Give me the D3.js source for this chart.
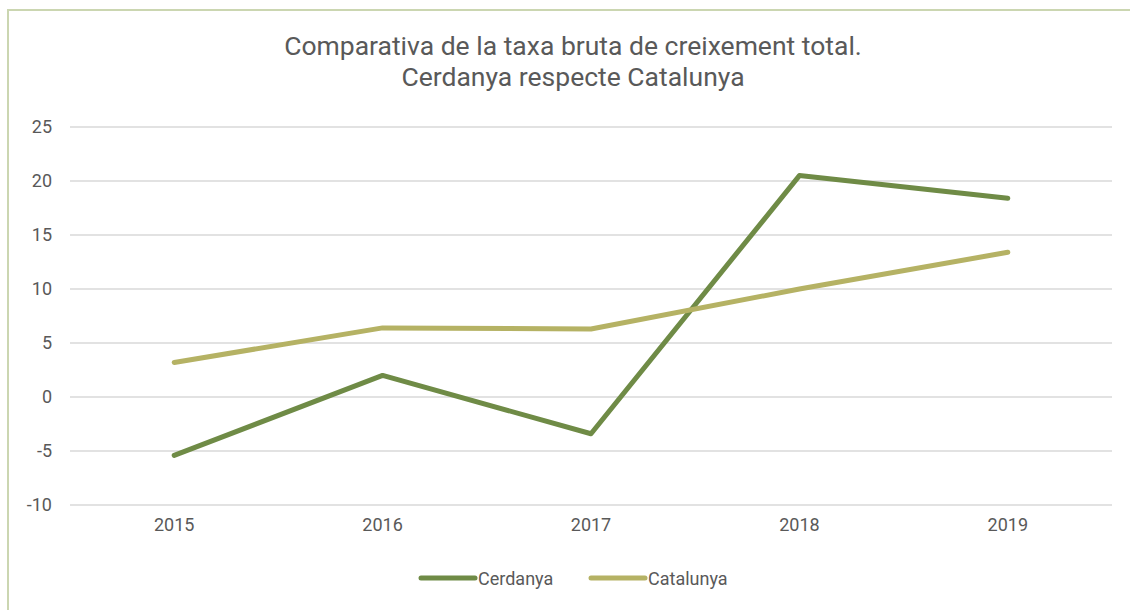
<!DOCTYPE html>
<html>
<head>
<meta charset="utf-8">
<script src="https://cdn.jsdelivr.net/npm/d3@7"></script>
<style>
  body { margin: 0; background: #fff; }
  svg { display: block; font-family: Roboto, sans-serif; }
</style>
</head>
<body>
<div class="board"></div>
<script>
// data
var years = ['2015', '2016', '2017', '2018', '2019'];
var cerdanya = [-5.4, 2.0, -3.4, 20.5, 18.4];
var catalunya = [3.2, 6.4, 6.3, 10.0, 13.4];
var yTicks = [-10, -5, 0, 5, 10, 15, 20, 25];
var seriesNames = ['Cerdanya', 'Catalunya'];
var seriesColors = ['#6f8b46', '#b5b264'];

var width = 1130, height = 610;
var plotLeft = 70, plotRight = 1112, plotTop = 127, plotBottom = 505;

var svg = d3.select('.board').append('svg')
  .attr('width', width)
  .attr('height', height);

// frame
svg.append('rect')
  .attr('x', 8).attr('y', 10)
  .attr('width', 1140).attr('height', 620)
  .attr('fill', 'none')
  .attr('stroke', '#cbd6b1')
  .attr('stroke-width', 2);

// title
svg.append('text')
  .attr('x', 573).attr('y', 55)
  .attr('text-anchor', 'middle')
  .attr('fill', '#595959')
  .style('font-size', '26.5px')
  .selectAll('tspan')
  .data(['Comparativa de la taxa bruta de creixement total.', 'Cerdanya respecte Catalunya'])
  .enter().append('tspan')
  .attr('x', 573)
  .attr('dy', (d, i) => i ? 31 : 0)
  .text(d => d);

// scales
var x = d3.scaleBand().domain(years).range([plotLeft, plotRight]);
var y = d3.scaleLinear().domain([-10, 25]).range([plotBottom, plotTop]);

// grid
svg.append('g').selectAll('line')
  .data(yTicks)
  .enter().append('line')
  .attr('x1', plotLeft).attr('x2', plotRight)
  .attr('y1', d => y(d)).attr('y2', d => y(d))
  .attr('stroke', '#d9d9d9')
  .attr('stroke-width', 1.5);

// y axis labels (plain hyphen for negatives)
var yAxis = svg.append('g')
  .attr('transform', 'translate(' + (plotLeft - 18) + ',0)')
  .call(d3.axisLeft(y).tickValues(yTicks).tickFormat(d => String(d)).tickSize(0).tickPadding(0));
yAxis.select('.domain').remove();
yAxis.selectAll('text')
  .attr('fill', '#595959')
  .style('font-size', '18px')
  .style('font-family', 'Roboto, sans-serif');

// x axis labels
var xAxis = svg.append('g')
  .attr('transform', 'translate(0,' + (plotBottom + 13) + ')')
  .call(d3.axisBottom(x).tickSize(0).tickPadding(0));
xAxis.select('.domain').remove();
xAxis.selectAll('text')
  .attr('fill', '#595959')
  .style('font-size', '18px')
  .style('font-family', 'Roboto, sans-serif');

// lines
var line = d3.line()
  .x((d, i) => x(years[i]) + x.bandwidth() / 2)
  .y(d => y(d));

[cerdanya, catalunya].forEach(function(vals, i) {
  svg.append('path')
    .datum(vals)
    .attr('d', line)
    .attr('fill', 'none')
    .attr('stroke', seriesColors[i])
    .attr('stroke-width', 5)
    .attr('stroke-linecap', 'round')
    .attr('stroke-linejoin', 'round');
});

// legend
var legendX = [421, 591];
seriesNames.forEach(function(name, i) {
  var g = svg.append('g').attr('transform', 'translate(' + legendX[i] + ',578)');
  g.append('line')
    .attr('x1', 0).attr('x2', 54)
    .attr('stroke', seriesColors[i])
    .attr('stroke-width', 5)
    .attr('stroke-linecap', 'round');
  g.append('text')
    .attr('x', 57).attr('y', 7)
    .attr('fill', '#595959')
    .style('font-size', '18px')
    .text(name);
});
</script>
</body>
</html>
